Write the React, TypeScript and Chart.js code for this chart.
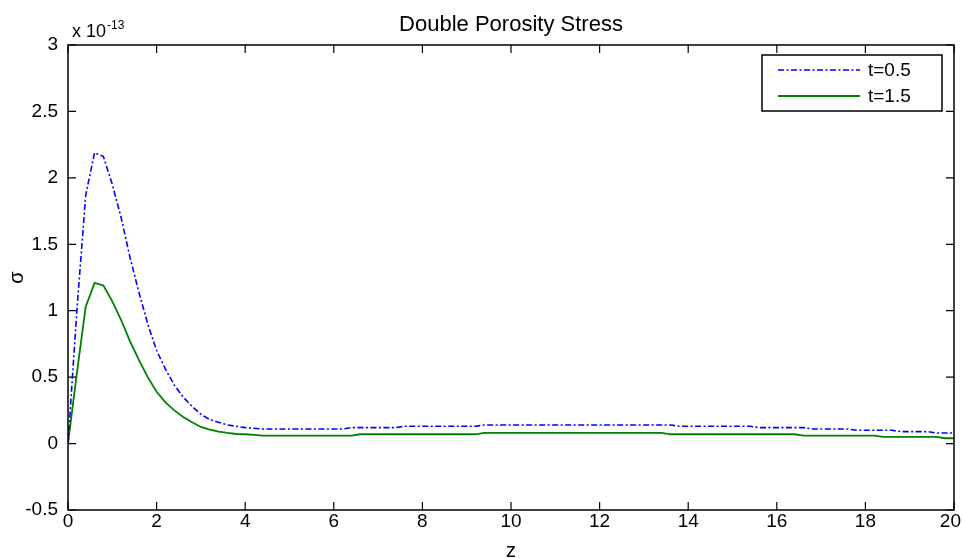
import React, { useEffect, useRef } from "react";
import { Chart, registerables } from "chart.js";

Chart.register(...registerables);

const chartTitle = "Double Porosity Stress";
const xAxisLabel = "z";
const yAxisLabel = "σ";
const exponentBase = "x 10";
const exponentPower = "-13";
const seriesLabels = ["t=0.5", "t=1.5"];
const xTickValues = [0, 2, 4, 6, 8, 10, 12, 14, 16, 18, 20];
const yTickValues = [-0.5, 0, 0.5, 1, 1.5, 2, 2.5, 3];

const zValues = [
  0, 0.2, 0.4, 0.6, 0.8, 1, 1.2, 1.4, 1.6, 1.8, 2, 2.2, 2.4, 2.6, 2.8, 3, 3.2, 3.4, 3.6, 3.8,
  4, 4.2, 4.4, 4.6, 4.8, 5, 5.2, 5.4, 5.6, 5.8, 6, 6.2, 6.4, 6.6, 6.8, 7, 7.2, 7.4, 7.6, 7.8,
  8, 8.2, 8.4, 8.6, 8.8, 9, 9.2, 9.4, 9.6, 9.8, 10, 10.2, 10.4, 10.6, 10.8, 11, 11.2, 11.4, 11.6, 11.8,
  12, 12.2, 12.4, 12.6, 12.8, 13, 13.2, 13.4, 13.6, 13.8, 14, 14.2, 14.4, 14.6, 14.8, 15, 15.2, 15.4, 15.6, 15.8,
  16, 16.2, 16.4, 16.6, 16.8, 17, 17.2, 17.4, 17.6, 17.8, 18, 18.2, 18.4, 18.6, 18.8, 19, 19.2, 19.4, 19.6, 19.8,
  20,
];

// values in units of 1e-13
const sigmaT05 = [
  0, 1.0, 1.87, 2.19, 2.16, 1.95, 1.7, 1.4, 1.14, 0.9, 0.7, 0.56, 0.44, 0.35, 0.28, 0.22, 0.18, 0.16, 0.14, 0.13,
  0.12, 0.115, 0.11, 0.11, 0.11, 0.11, 0.11, 0.11, 0.11, 0.11, 0.11, 0.11, 0.12, 0.12, 0.12, 0.12, 0.12, 0.12, 0.13, 0.13,
  0.13, 0.13, 0.13, 0.13, 0.13, 0.13, 0.13, 0.14, 0.14, 0.14, 0.14, 0.14, 0.14, 0.14, 0.14, 0.14, 0.14, 0.14, 0.14, 0.14,
  0.14, 0.14, 0.14, 0.14, 0.14, 0.14, 0.14, 0.14, 0.14, 0.13, 0.13, 0.13, 0.13, 0.13, 0.13, 0.13, 0.13, 0.13, 0.12, 0.12,
  0.12, 0.12, 0.12, 0.12, 0.11, 0.11, 0.11, 0.11, 0.11, 0.1, 0.1, 0.1, 0.1, 0.1, 0.09, 0.09, 0.09, 0.09, 0.08, 0.08,
  0.08,
];

const sigmaT15 = [
  0, 0.53, 1.03, 1.21, 1.19, 1.07, 0.93, 0.77, 0.63, 0.5, 0.39, 0.31, 0.25, 0.2, 0.16, 0.125, 0.105, 0.09, 0.08, 0.072,
  0.07, 0.065, 0.06, 0.06, 0.06, 0.06, 0.06, 0.06, 0.06, 0.06, 0.06, 0.06, 0.06, 0.07, 0.07, 0.07, 0.07, 0.07, 0.07, 0.07,
  0.07, 0.07, 0.07, 0.07, 0.07, 0.07, 0.07, 0.08, 0.08, 0.08, 0.08, 0.08, 0.08, 0.08, 0.08, 0.08, 0.08, 0.08, 0.08, 0.08,
  0.08, 0.08, 0.08, 0.08, 0.08, 0.08, 0.08, 0.08, 0.07, 0.07, 0.07, 0.07, 0.07, 0.07, 0.07, 0.07, 0.07, 0.07, 0.07, 0.07,
  0.07, 0.07, 0.07, 0.06, 0.06, 0.06, 0.06, 0.06, 0.06, 0.06, 0.06, 0.06, 0.05, 0.05, 0.05, 0.05, 0.05, 0.05, 0.05, 0.04,
  0.04,
];

const FONT = "'Liberation Sans', Arial, sans-serif";

export default function App() {
  const canvasRef = useRef<HTMLCanvasElement | null>(null);

  useEffect(() => {
    document.body.style.margin = "0";
    const canvas = canvasRef.current;
    if (!canvas) return;

    const decorPlugin = {
      id: "decor",
      afterDraw(chart: any) {
        const { ctx, chartArea, width } = chart;
        const { left, right, top, bottom } = chartArea;
        const xs = chart.scales.x;
        const ys = chart.scales.y;
        ctx.save();
        // box
        ctx.strokeStyle = "#000";
        ctx.lineWidth = 1.5;
        ctx.strokeRect(left, top, right - left, bottom - top);
        // inside ticks
        const tl = 8;
        ctx.lineWidth = 1.2;
        ctx.beginPath();
        xTickValues.forEach((v) => {
          const px = xs.getPixelForValue(v);
          ctx.moveTo(px, bottom);
          ctx.lineTo(px, bottom - tl);
          ctx.moveTo(px, top);
          ctx.lineTo(px, top + tl);
        });
        yTickValues.forEach((v) => {
          const py = ys.getPixelForValue(v);
          ctx.moveTo(left, py);
          ctx.lineTo(left + tl, py);
          ctx.moveTo(right, py);
          ctx.lineTo(right - tl, py);
        });
        ctx.stroke();

        // x tick labels (kept inside the canvas)
        ctx.fillStyle = "#000";
        ctx.font = `19px ${FONT}`;
        ctx.textAlign = "left";
        ctx.textBaseline = "alphabetic";
        xTickValues.forEach((v) => {
          const label = String(v);
          const tw = ctx.measureText(label).width;
          let lx = xs.getPixelForValue(v) - tw / 2;
          if (lx + tw > width - 2) lx = width - 2 - tw;
          ctx.fillText(label, lx, bottom + 17);
        });

        // title
        ctx.textAlign = "center";
        ctx.font = `22px ${FONT}`;
        ctx.fillText(chartTitle, (left + right) / 2, 31);

        // exponent
        ctx.textAlign = "left";
        ctx.font = `18px ${FONT}`;
        ctx.fillText(exponentBase, left + 4, 37);
        const w = ctx.measureText(exponentBase).width;
        ctx.font = `12px ${FONT}`;
        ctx.fillText(exponentPower, left + 4 + w + 1, 29);

        // x label
        ctx.textAlign = "center";
        ctx.font = `20px ${FONT}`;
        ctx.fillText(xAxisLabel, (left + right) / 2, 557);

        // y label
        ctx.save();
        ctx.translate(17, (top + bottom) / 2);
        ctx.rotate(-Math.PI / 2);
        ctx.textBaseline = "middle";
        ctx.fillText(yAxisLabel, 0, 0);
        ctx.restore();

        // legend
        const bx = right - 192;
        const by = top + 10;
        const bw = 180;
        const bh = 56;
        ctx.fillStyle = "#fff";
        ctx.fillRect(bx, by, bw, bh);
        ctx.strokeStyle = "#000";
        ctx.lineWidth = 1.5;
        ctx.strokeRect(bx, by, bw, bh);
        chart.data.datasets.forEach((ds: any, i: number) => {
          const ly = by + 15 + i * 26;
          ctx.beginPath();
          ctx.strokeStyle = ds.borderColor;
          ctx.lineWidth = ds.borderWidth;
          ctx.setLineDash(ds.borderDash || []);
          ctx.moveTo(bx + 16, ly);
          ctx.lineTo(bx + 98, ly);
          ctx.stroke();
          ctx.setLineDash([]);
          ctx.fillStyle = "#000";
          ctx.font = `19px ${FONT}`;
          ctx.textAlign = "left";
          ctx.textBaseline = "middle";
          ctx.fillText(ds.label, bx + 106, ly + 1);
        });
        ctx.restore();
      },
    };

    const chart = new Chart(canvas, {
      type: "line",
      data: {
        datasets: [
          {
            label: seriesLabels[0],
            data: zValues.map((z, i) => ({ x: z, y: sigmaT05[i] })),
            borderColor: "#0000ff",
            borderWidth: 1.6,
            borderDash: [6, 2.5, 2, 2.5],
            pointRadius: 0,
            tension: 0,
            fill: false,
          },
          {
            label: seriesLabels[1],
            data: zValues.map((z, i) => ({ x: z, y: sigmaT15[i] })),
            borderColor: "#008000",
            borderWidth: 1.8,
            pointRadius: 0,
            tension: 0,
            fill: false,
          },
        ],
      },
      options: {
        responsive: false,
        animation: false,
        layout: { padding: { top: 45, right: 9, left: 0, bottom: 0 } },
        plugins: {
          legend: { display: false },
          tooltip: { enabled: false },
          title: { display: false },
        },
        scales: {
          x: {
            type: "linear",
            min: 0,
            max: 20,
            afterFit: (s: any) => {
              s.height = 48;
              s.paddingLeft = 0;
              s.paddingRight = 0;
            },
            afterBuildTicks: (s: any) => {
              s.ticks = xTickValues.map((v) => ({ value: v }));
            },
            grid: { display: false, drawTicks: false },
            border: { display: false },
            ticks: { display: false },
          },
          y: {
            type: "linear",
            min: -0.5,
            max: 3,
            afterFit: (s: any) => {
              s.width = 68;
              s.paddingTop = 0;
              s.paddingBottom = 0;
            },
            afterBuildTicks: (s: any) => {
              s.ticks = yTickValues.map((v) => ({ value: v }));
            },
            grid: { display: false, drawTicks: false },
            border: { display: false },
            ticks: {
              padding: 10,
              color: "#000",
              font: { family: FONT, size: 19 },
              callback: (v: any) => String(v),
            },
          },
        },
      },
      plugins: [decorPlugin],
    } as any);

    return () => chart.destroy();
  }, []);

  return (
    <div style={{ position: "absolute", left: 0, top: 0, width: 963, height: 558, background: "#fff" }}>
      <canvas ref={canvasRef} width={963} height={558} />
    </div>
  );
}
